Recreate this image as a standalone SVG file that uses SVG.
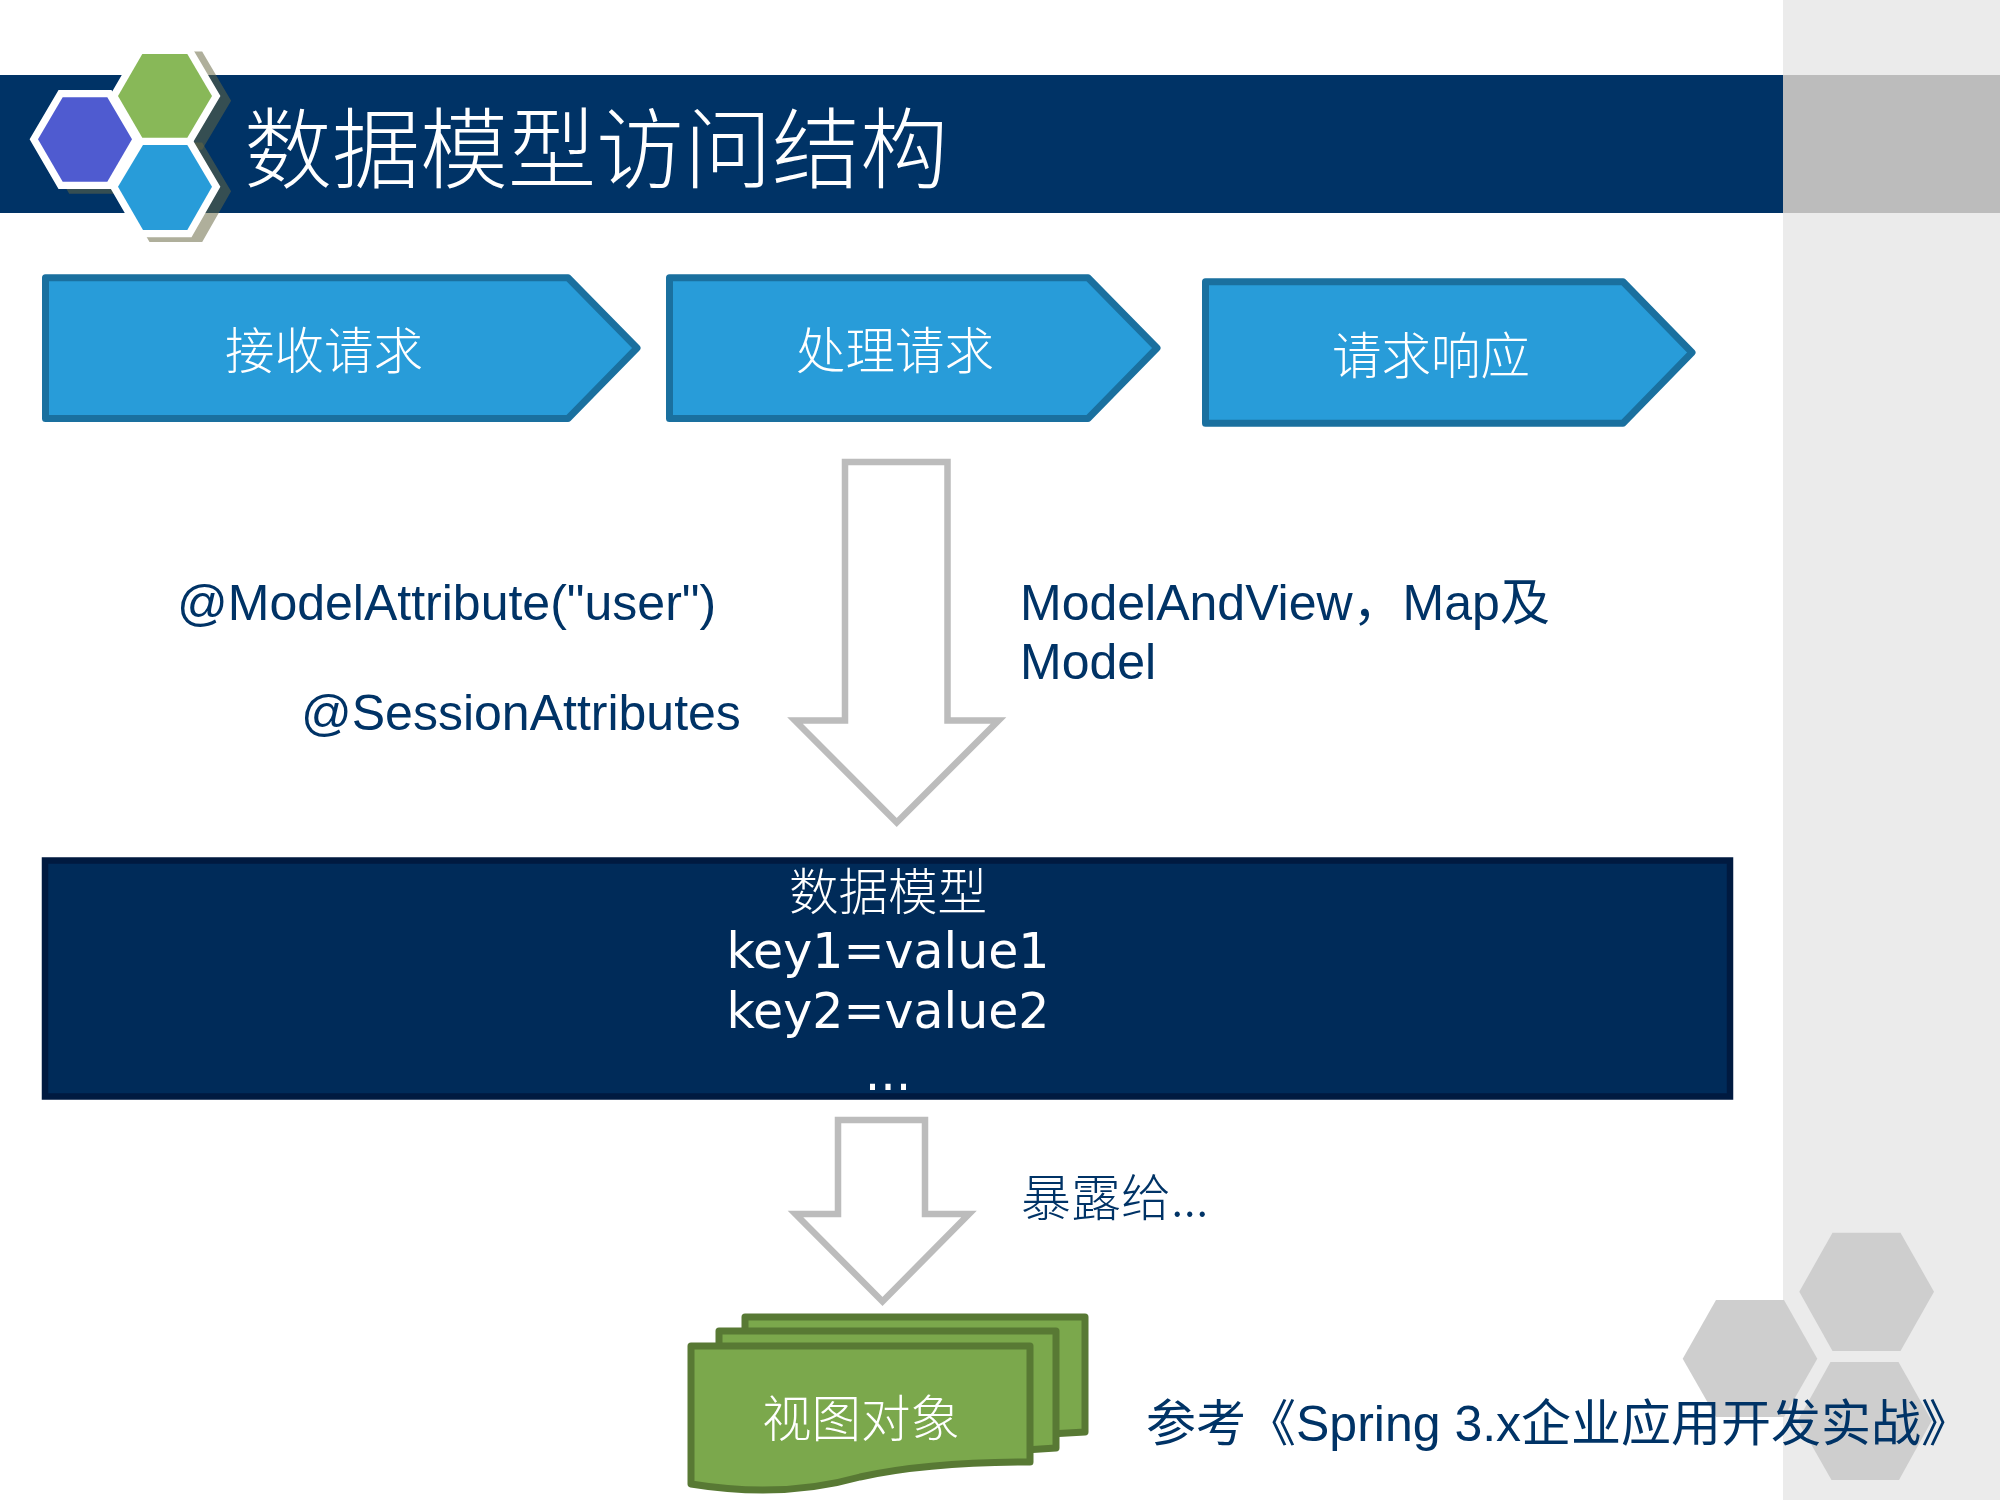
<svg xmlns="http://www.w3.org/2000/svg" width="2000" height="1500" viewBox="0 0 2000 1500">
<style>
text{font-family:"Liberation Sans","Noto Sans CJK SC",sans-serif;font-size:50px;fill:#003366}
.c{font-family:"Noto Sans CJK SC",sans-serif;font-weight:300;fill:#fff;text-anchor:middle;font-size:49.500px}
.k{font-family:"DejaVu Sans",sans-serif;fill:#fff;text-anchor:middle;font-size:49px}
.step{fill:#289cd9;stroke:#1a709f;stroke-width:7;stroke-linejoin:round}
.block{fill:#fff;stroke:#bcbcbc;stroke-width:6.500;stroke-linejoin:miter;stroke-miterlimit:10}
.page{fill:#7ba84c;stroke:#587934;stroke-width:7;stroke-linejoin:round}
.side{fill:#cecece}
.outline{fill:#fff;stroke:#fff;stroke-width:14.500;stroke-linejoin:miter}
.shadow{fill:#676741;stroke:#676741;stroke-width:14.500;opacity:.52}
</style>
<defs>
<polygon id="hex-green" points="142.3,54 187.3,54 212,96 187.3,137.7 142.3,137.7 118,96"/>
<polygon id="hex-purple" points="62.7,97.300 107.300,97.300 132,139.300 107.300,181.700 62.700,181.700 38,139.300"/>
<polygon id="hex-blue" points="143,145 187.300,145 212,186.700 187.300,230 143,230 118,186.700"/>
</defs>
<rect width="2000" height="1500" fill="#fff"/>
<g id="sidebar">
<rect x="1783" y="0" width="217" height="1500" fill="#ebebeb"/>
<rect x="1783" y="75" width="217" height="138" fill="#bcbcbc"/>
<polygon class="side" points="1832.5,1232.7 1900.5,1232.7 1934,1291.7 1900.5,1351 1832.5,1351 1799.3,1291.7"/>
<polygon class="side" points="1716,1300 1784,1300 1817.3,1358.7 1784,1417 1716,1417 1682.7,1358.7"/>
<polygon class="side" points="1830.5,1362 1898.5,1362 1931.7,1420.7 1899,1480 1831.5,1480 1797.7,1420.7"/>
</g>
<g id="header">
<rect x="0" y="75" width="1783" height="138" fill="#003366"/>
<use href="#hex-purple" class="shadow" transform="translate(10.700 4.700)"/>
<use href="#hex-green" class="shadow" transform="translate(10.700 4.700)"/>
<use href="#hex-blue" class="shadow" transform="translate(10.700 4.700)"/>
<use href="#hex-purple" class="outline"/>
<use href="#hex-green" class="outline"/>
<use href="#hex-blue" class="outline"/>
<use href="#hex-purple" fill="#4f5bd0"/>
<use href="#hex-green" fill="#88b858"/>
<use href="#hex-blue" fill="#289cd9"/>
<text x="244" y="181" class="c" style="font-size:88px;text-anchor:start">数据模型访问结构</text>
</g>
<g id="step1">
<path class="step" d="M45.500 277.700H568L637 348L568 418.500H45.500Z"/>
<text x="324" y="368.500" class="c">接收请求</text>
</g>
<g id="step2">
<path class="step" d="M669.500 277.700H1088L1157 348L1088 418.500H669.500Z"/>
<text x="895" y="368.500" class="c">处理请求</text>
</g>
<g id="step3">
<path class="step" d="M1205.500 281.700H1623L1692 352.500L1623 423.300H1205.500Z"/>
<text x="1431" y="373.500" class="c">请求响应</text>
</g>
<g id="connectors">
<path class="block" d="M845 462H947.500V720.500H998.500L896.700 822.500L795 720.500H845Z"/>
<path class="block" d="M838 1120H925V1214H969L882.500 1301.500L795.500 1214H838Z"/>
</g>
<g id="label-model-attribute">
<text x="177" y="620">@ModelAttribute("user")</text>
<text x="301" y="730">@SessionAttributes</text>
</g>
<g id="label-model-and-view">
<text x="1020" y="620">ModelAndView，Map及</text>
<text x="1020" y="679">Model</text>
</g>
<g id="data-model">
<rect x="45" y="860.500" width="1685" height="236" fill="#002b59" stroke="#001a40" stroke-width="6.500"/>
<text x="888" y="909.500" class="c">数据模型</text>
<text x="888" y="967.500" class="k">key1=value1</text>
<text x="888" y="1027.500" class="k">key2=value2</text>
<text x="888" y="1090" class="k">...</text>
</g>
<g id="label-expose">
<text x="1021" y="1216" style="font-family:'Noto Sans CJK SC','Liberation Sans',sans-serif;font-weight:300">暴露给...</text>
</g>
<g id="view-object">
<path class="page" d="M745 1317H1085V1432L1050 1434H745Z"/>
<path class="page" d="M719 1331H1056V1448L1025 1450H719Z"/>
<path class="page" d="M691 1346H1030V1462C970 1462 910 1466 860 1477C800 1494 740 1492 691 1484Z"/>
<text x="861" y="1437" class="c">视图对象</text>
</g>
<g id="label-reference">
<text x="1146" y="1441">参考《Spring 3.x企业应用开发实战》</text>
</g>
</svg>
